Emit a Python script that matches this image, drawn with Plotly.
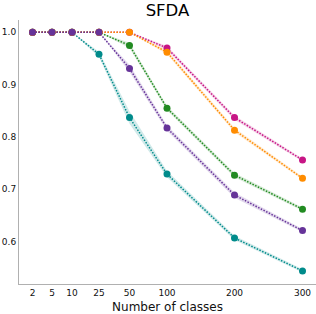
import numpy as np
import plotly.graph_objects as go

# ---- data ----
num_classes = [2, 5, 10, 25, 50, 100, 200, 300]
tick_labels = ["2", "5", "10", "25", "50", "100", "200", "300"]

teal_vals = [1.0, 1.0, 1.0, 0.958, 0.837, 0.729, 0.607, 0.544]
teal_err = [0.0, 0.0, 0.0, 0.005, 0.012, 0.006, 0.004, 0.003]
green_vals = [1.0, 1.0, 1.0, 1.0, 0.975, 0.855, 0.727, 0.662]
green_err = [0.0, 0.0, 0.0, 0.0, 0.005, 0.004, 0.004, 0.003]
magenta_vals = [1.0, 1.0, 1.0, 1.0, 1.0, 0.970, 0.837, 0.756]
magenta_err = [0.0, 0.0, 0.0, 0.0, 0.0, 0.004, 0.004, 0.003]
orange_vals = [1.0, 1.0, 1.0, 1.0, 1.0, 0.962, 0.813, 0.721]
orange_err = [0.0, 0.0, 0.0, 0.0, 0.0, 0.004, 0.004, 0.003]
purple_vals = [1.0, 1.0, 1.0, 1.0, 0.931, 0.817, 0.689, 0.621]
purple_err = [0.0, 0.0, 0.0, 0.0, 0.007, 0.005, 0.005, 0.003]

# ---- custom x scale (class count -> axis units), piecewise like the original axis ----
scale_domain = num_classes
scale_range = [0, 19.5, 39.5, 66.5, 97, 134.5, 202, 270]


def xscale(v):
    return np.interp(v, scale_domain, scale_range)


xs = xscale(num_classes)

series = [
    ("teal", teal_vals, teal_err, "#008b8b", "rgba(0,139,139,0.18)"),
    ("green", green_vals, green_err, "#228b22", "rgba(34,139,34,0.18)"),
    ("magenta", magenta_vals, magenta_err, "#c71585", "rgba(199,21,133,0.18)"),
    ("orange", orange_vals, orange_err, "#ff8c00", "rgba(255,140,0,0.18)"),
    ("purple", purple_vals, purple_err, "#663399", "rgba(102,51,153,0.18)"),
]

fig = go.Figure()
for name, vals, err, col, fill in series:
    v = np.array(vals)
    e = np.array(err)
    upper = v + e
    lower = v - e
    fig.add_trace(go.Scatter(
        x=np.concatenate([xs, xs[::-1]]),
        y=np.concatenate([upper, lower[::-1]]),
        fill="toself", fillcolor=fill, line=dict(width=0),
        mode="lines", hoverinfo="skip", showlegend=False,
    ))
for name, vals, err, col, fill in series:
    fig.add_trace(go.Scatter(
        x=xs, y=vals, mode="lines+markers", name=name,
        line=dict(color=col, width=1.5, dash="1.5px,1.5px"),
        marker=dict(color=col, size=7),
        showlegend=False,
    ))

font_family = "DejaVu Sans"
fig.update_layout(
    width=316, height=314,
    margin=dict(l=19, r=0, t=20, b=30, autoexpand=False),
    paper_bgcolor="white", plot_bgcolor="white",
    font=dict(family=font_family, color="#111111", size=9),
    title=dict(text="SFDA", x=0.53, xanchor="center", y=1 - 10 / 314,
               yanchor="middle", font=dict(size=16.5, color="black")),
    showlegend=False,
)
fig.update_xaxes(
    range=[-13.5, 283.5], tickmode="array", tickvals=xs, ticktext=tick_labels,
    showgrid=False, zeroline=False, showline=True, linecolor="#b0b0b0",
    linewidth=1, ticks="", tickfont=dict(size=9, color="#111111"),
    automargin=False,
    title=dict(text="Number of classes", font=dict(size=12, color="#111111"),
               standoff=5),
)
fig.update_yaxes(
    range=[0.519, 1.0235], tickmode="array",
    tickvals=[0.6, 0.7, 0.8, 0.9, 1.0], ticktext=["0.6", "0.7", "0.8", "0.9", "1.0"],
    showgrid=False, zeroline=False, showline=True, linecolor="#b0b0b0",
    linewidth=1, ticks="", tickfont=dict(size=9, color="#111111"),
    automargin=False,
)

fig.write_html(
    "out.html",
    config={"displayModeBar": False},
    post_script="document.body.style.margin='0';document.body.style.overflow='hidden';",
)
